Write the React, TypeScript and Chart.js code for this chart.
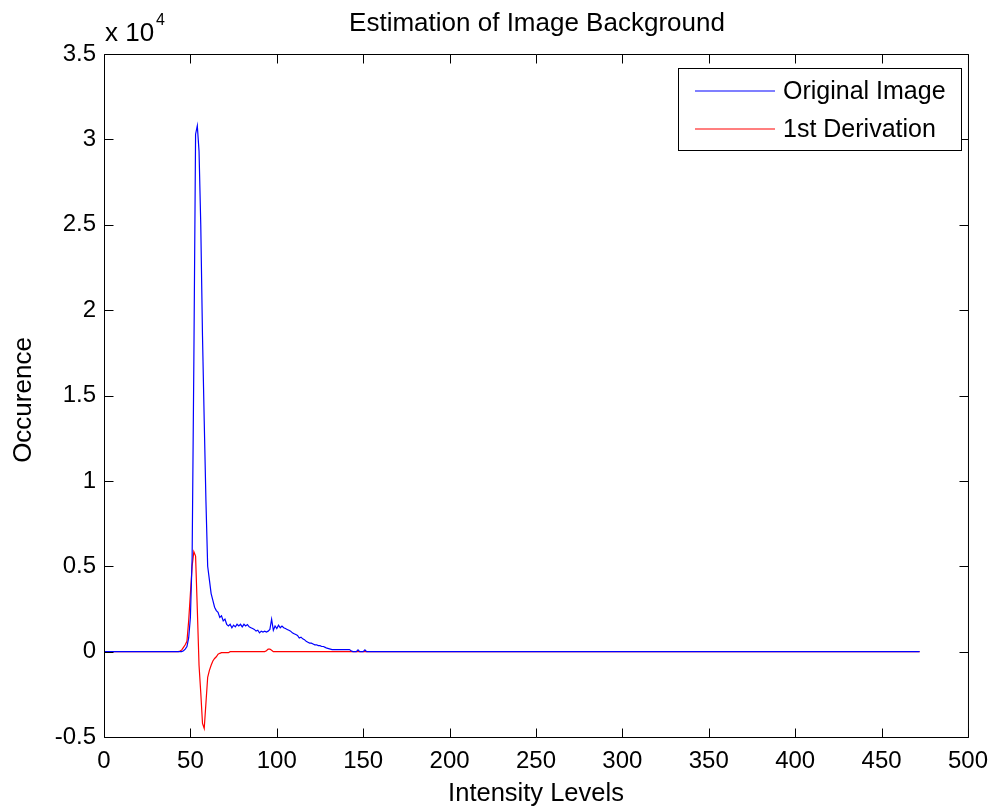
import React, { useEffect, useRef } from "react";
import { Chart, registerables } from "chart.js";

Chart.register(...registerables);

// ---- data ----
const intensityLevels = [
  0,
  40, 41, 42, 43, 44, 45, 46, 47, 48, 49,
  50, 51, 52, 53, 54, 55, 56, 57, 58, 59,
  60, 61, 62, 63, 64, 65, 66, 67, 68, 69,
  70, 71, 72, 73, 74, 75, 76, 77, 78, 79,
  80, 81, 82, 83, 84, 85, 86, 87, 88, 89,
  90, 91, 92, 93, 94, 95, 96, 97, 98, 99,
  100, 101, 102, 103, 104, 105, 106, 107, 108, 109,
  110, 111, 112, 113, 114, 115, 116, 117, 118, 119,
  120, 121, 122, 123, 124, 125, 126, 127, 128, 129,
  130, 131, 132, 133, 134, 135, 136, 137, 138, 139,
  140, 141, 142, 143, 144, 145, 146, 147, 148, 149,
  150, 151, 152, 153, 154, 155, 156, 157, 158, 159,
  160,
  472,
];

const originalImage = [
  0,
  0, 0, 0, 0, 0, 0, 50, 150, 300, 800,
  2000, 5500, 17000, 30300, 30800, 29300, 25000, 18500, 13500, 8800,
  5000, 4200, 3400, 3000, 2600, 2400, 2300, 2000, 2100, 1800,
  1900, 1600, 1500, 1600, 1400, 1550, 1450, 1600, 1500, 1600,
  1450, 1600, 1500, 1580, 1450, 1400, 1350, 1300, 1200, 1250,
  1100, 1200, 1150, 1200, 1150, 1200, 1300, 1900, 1250, 1500,
  1350, 1550, 1400, 1500, 1400, 1350, 1300, 1250, 1200, 1100,
  1050, 1000, 950, 800, 850, 750, 700, 600, 550, 500,
  500, 450, 400, 400, 350, 350, 300, 300, 250, 200,
  180, 150, 120, 120, 120, 120, 120, 120, 120, 120,
  120, 120, 120, 50, 0, 0, 0, 100, 0, 0,
  0, 100, 0, 0, 0, 0, 0, 0, 0, 0,
  0,
  0,
];

const firstDerivation = [
  0,
  0, 0, 0, 0, 30, 100, 250, 400, 600, 1800,
  3400, 5000, 5850, 5600, 2500, -800, -2400, -4200, -4500, -3000,
  -1500, -1100, -800, -550, -400, -300, -150, -100, -60, -60,
  -60, -60, -60, 0, 0, 0, 0, 0, 0, 0,
  0, 0, 0, 0, 0, 0, 0, 0, 0, 0,
  0, 0, 0, 0, 50, 150, 150, 80, 0, 0,
  0, 0, 0, 0, 0, 0, 0, 0, 0, 0,
  0, 0, 0, 0, 0, 0, 0, 0, 0, 0,
  0, 0, 0, 0, 0, 0, 0, 0, 0, 0,
  0, 0, 0, 0, 0, 0, 0, 0, 0, 0,
  0, 0, 0, 0, 0, 0, 0, 0, 0, 0,
  0, 0, 0, 0, 0, 0, 0, 0, 0, 0,
  0,
  0,
];

const seriesNames = ["Original Image", "1st Derivation"];
const seriesColors = ["#0000ff", "#ff0000"];
const chartTitle = "Estimation of Image Background";
const xAxisTitle = "Intensity Levels";
const yAxisTitle = "Occurence";
const yScaleExponent = "4";
const xRange = [0, 500];
const xStep = 50;
const yRange = [-5000, 35000];
const yStep = 5000;

const FONT = '"Liberation Sans", Arial, Helvetica, sans-serif';

const framePlugin = {
  id: "matlabFrame",
  afterDraw(chart: any) {
    const { ctx, chartArea: a, scales } = chart;
    const L = a.left + 0.5;
    const R = a.right + 0.5;
    const T = a.top + 0.5;
    const B = a.bottom + 0.5;
    ctx.save();
    ctx.strokeStyle = "#000";
    ctx.lineWidth = 1;
    ctx.beginPath();
    ctx.rect(L, T, R - L, B - T);
    ctx.stroke();
    const tl = 9;
    ctx.beginPath();
    scales.x.ticks.forEach((t: any) => {
      const px = Math.round(scales.x.getPixelForValue(t.value)) + 0.5;
      ctx.moveTo(px, B);
      ctx.lineTo(px, B - tl);
      ctx.moveTo(px, T);
      ctx.lineTo(px, T + tl);
    });
    scales.y.ticks.forEach((t: any) => {
      const py = Math.round(scales.y.getPixelForValue(t.value)) + 0.5;
      ctx.moveTo(L, py);
      ctx.lineTo(L + tl, py);
      ctx.moveTo(R, py);
      ctx.lineTo(R - tl, py);
    });
    ctx.stroke();

    ctx.fillStyle = "#000";
    // title
    ctx.font = `26px ${FONT}`;
    ctx.textAlign = "center";
    ctx.textBaseline = "alphabetic";
    ctx.fillText(chartTitle, 537, 31);
    // x title
    ctx.font = `25.5px ${FONT}`;
    ctx.fillText(xAxisTitle, 536, 801);
    // y title
    ctx.save();
    ctx.translate(31, 400);
    ctx.rotate(-Math.PI / 2);
    ctx.font = `26px ${FONT}`;
    ctx.fillText(yAxisTitle, 0, 0);
    ctx.restore();
    // exponent
    ctx.textAlign = "left";
    ctx.font = `26px ${FONT}`;
    ctx.fillText("x 10", a.left + 1, 41);
    ctx.font = `16px ${FONT}`;
    ctx.fillText(yScaleExponent, a.left + 52, 25);

    // legend
    const lx = 678.5, ly = 68.5, lw = 283, lh = 82;
    ctx.fillStyle = "#fff";
    ctx.fillRect(lx, ly, lw, lh);
    ctx.strokeStyle = "#000";
    ctx.strokeRect(lx, ly, lw, lh);
    const rows = [91, 129];
    seriesNames.forEach((name, i) => {
      ctx.strokeStyle = seriesColors[i];
      ctx.lineWidth = 1.2;
      ctx.beginPath();
      ctx.moveTo(695, rows[i]);
      ctx.lineTo(775, rows[i]);
      ctx.stroke();
      ctx.fillStyle = "#000";
      ctx.font = `25px ${FONT}`;
      ctx.textAlign = "left";
      ctx.textBaseline = "middle";
      ctx.fillText(name, 783, rows[i] + 1);
    });
    ctx.restore();
  },
};

export default function App() {
  const ref = useRef<HTMLCanvasElement | null>(null);
  useEffect(() => {
    if (!ref.current) return;
    const toPoints = (ys: number[]) => ys.map((y, i) => ({ x: intensityLevels[i], y }));
    const chart = new Chart(ref.current, {
      type: "line",
      data: {
        datasets: [
          {
            label: seriesNames[0],
            data: toPoints(originalImage),
            borderColor: seriesColors[0],
            borderWidth: 1.2,
            pointRadius: 0,
            tension: 0,
            fill: false,
          },
          {
            label: seriesNames[1],
            data: toPoints(firstDerivation),
            borderColor: seriesColors[1],
            borderWidth: 1.2,
            pointRadius: 0,
            tension: 0,
            fill: false,
          },
        ],
      },
      options: {
        animation: false,
        responsive: false,
        devicePixelRatio: 1,
        layout: { padding: { left: 0, top: 54, right: 25, bottom: 0 } },
        plugins: {
          legend: { display: false },
          title: { display: false },
          tooltip: { enabled: false },
        },
        scales: {
          x: {
            type: "linear",
            min: xRange[0],
            max: xRange[1],
            ticks: {
              stepSize: xStep,
              color: "#000",
              font: { family: FONT, size: 24 },
              padding: 10,
              maxRotation: 0,
              autoSkip: false,
            },
            grid: { display: false, drawTicks: false },
            border: { display: false },
            afterFit: (s: any) => {
              s.height = 70;
            },
          },
          y: {
            type: "linear",
            min: yRange[0],
            max: yRange[1],
            ticks: {
              stepSize: yStep,
              color: "#000",
              font: { family: FONT, size: 24 },
              padding: 8,
              autoSkip: false,
              callback: (v: any) => String(Number(v) / 10000),
            },
            grid: { display: false, drawTicks: false },
            border: { display: false },
            afterFit: (s: any) => {
              s.width = 104;
            },
          },
        },
      },
      plugins: [framePlugin],
    });
    return () => chart.destroy();
  }, []);
  return (
    <div style={{ position: "fixed", left: 0, top: 0, width: 998, height: 807, background: "#fff" }}>
      <canvas ref={ref} width={998} height={807} style={{ display: "block", width: 998, height: 807 }} />
    </div>
  );
}
